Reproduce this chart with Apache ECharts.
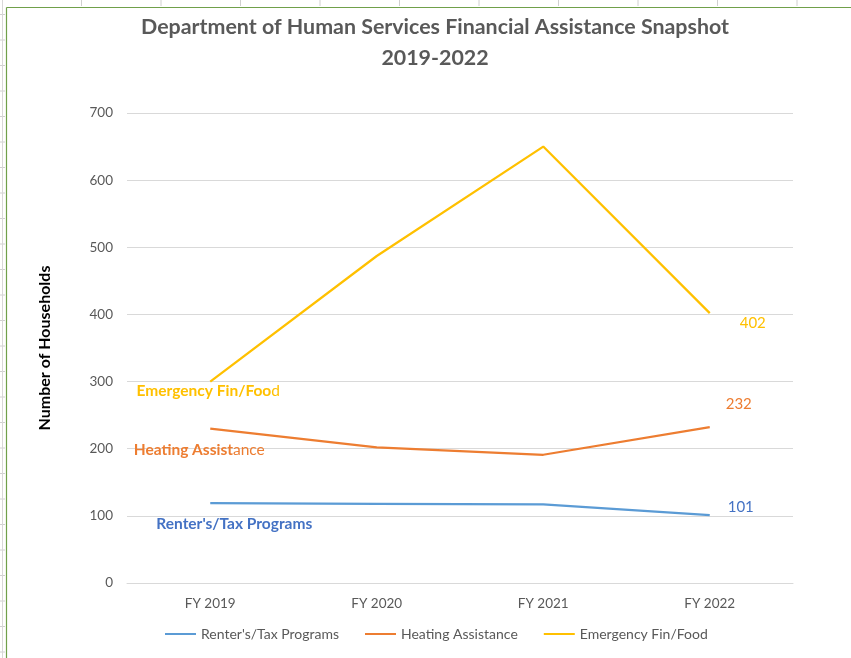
<!DOCTYPE html>
<html><head><meta charset="utf-8">
<script src="https://cdn.jsdelivr.net/npm/echarts@6/dist/echarts.min.js"></script>
<style>html,body{margin:0;padding:0;background:#fff}#c{width:851px;height:658px}</style>
</head><body><div id="c"></div>
<script>
const categories = ['FY 2019', 'FY 2020', 'FY 2021', 'FY 2022'];
const renters = [119, 118, 117, 101];
const heating = [230, 202, 191, 232];
const emergency = [300, 487, 650, 402];
const seriesNames = ["Renter's/Tax Programs", 'Heating Assistance', 'Emergency Fin/Food'];
const yTicks = {min: 0, max: 700, interval: 100};

const FONT = 'Lato, "Open Sans", sans-serif';
const chart = echarts.init(document.getElementById('c'), null, {renderer: 'canvas'});

function startLabel(rich, fmt, offset) {
  return {show: true, position: 'inside', offset: offset, formatter: fmt, rich: rich};
}
function endLabel(color, offset) {
  return {show: true, position: 'inside', offset: offset, color: color, fontSize: 15, fontFamily: FONT, formatter: '{c}'};
}
function mkData(vals, first, last) {
  return vals.map((v, i) => {
    const d = {value: v, label: {show: false}};
    if (i === 0) d.label = first;
    if (i === vals.length - 1) d.label = last;
    return d;
  });
}

const bg = [];
// Excel cell lines outside the chart frame
for (let x = 81.5; x < 851; x += 79.5) bg.push({type: 'line', shape: {x1: x, y1: 0, x2: x, y2: 6}, style: {stroke: '#d0d0d0', lineWidth: 1}, silent: true});
for (let y = 14.5; y < 658; y += 25.5) bg.push({type: 'line', shape: {x1: 0, y1: y, x2: 5, y2: y}, style: {stroke: '#d0d0d0', lineWidth: 1}, silent: true});
bg.push({type: 'line', shape: {x1: 2.5, y1: 0, x2: 2.5, y2: 658}, style: {stroke: '#d8d8d8', lineWidth: 1}, silent: true});
bg.push({type: 'line', shape: {x1: 6.5, y1: 7.5, x2: 851, y2: 7.5}, style: {stroke: '#70a04a', lineWidth: 1.2}, silent: true});
bg.push({type: 'line', shape: {x1: 6.5, y1: 7.5, x2: 6.5, y2: 658}, style: {stroke: '#70a04a', lineWidth: 1.2}, silent: true});

const option = {
  backgroundColor: '#fff',
  animation: false,
  title: {
    text: 'Department of Human Services Financial Assistance Snapshot\n2019-2022',
    left: 430, top: 7, textAlign: 'center',
    textStyle: {fontFamily: FONT, fontSize: 21.4, fontWeight: 'bold', color: '#595959', lineHeight: 31}
  },
  graphic: bg,
  legend: {
    bottom: 12, left: 160, itemWidth: 31, itemHeight: 2, itemGap: 26,
    icon: 'rect',
    textStyle: {fontFamily: FONT, fontSize: 14, color: '#595959'},
    data: seriesNames
  },
  grid: {left: 127, right: 58, top: 113, bottom: 75},
  xAxis: {
    type: 'category', data: categories, boundaryGap: true,
    axisLine: {show: true, lineStyle: {color: '#d9d9d9'}},
    axisTick: {show: false},
    axisLabel: {fontFamily: FONT, fontSize: 13.5, color: '#595959', margin: 14}
  },
  yAxis: {
    type: 'value', min: yTicks.min, max: yTicks.max, interval: yTicks.interval,
    name: 'Number of Households', nameLocation: 'middle', nameGap: 74, nameRotate: 90,
    nameTextStyle: {fontFamily: FONT, fontSize: 16, fontWeight: 'bold', color: '#000'},
    axisLine: {show: false}, axisTick: {show: false},
    axisLabel: {fontFamily: FONT, fontSize: 13.5, color: '#595959', margin: 14},
    splitLine: {lineStyle: {color: '#d9d9d9'}}
  },
  series: [
    {
      name: seriesNames[0], type: 'line', symbol: 'circle', symbolSize: 0, showSymbol: true,
      color: '#5B9BD5', lineStyle: {width: 2.25, color: '#5B9BD5'},
      data: mkData(renters,
        startLabel({b: {fontFamily: FONT, fontSize: 15.5, fontWeight: 'bold', color: '#4472C4'}}, "{b|Renter's/Tax Programs}", [24, 21]),
        endLabel('#4472C4', [31, -8]))
    },
    {
      name: seriesNames[1], type: 'line', symbol: 'circle', symbolSize: 0, showSymbol: true,
      color: '#ED7D31', lineStyle: {width: 2.25, color: '#ED7D31'},
      data: mkData(heating,
        startLabel({b: {fontFamily: FONT, fontSize: 15.5, fontWeight: 'bold', color: '#ED7D31'}, n: {fontFamily: FONT, fontSize: 15.5, color: '#ED7D31'}}, '{b|Heating Assist}{n|ance}', [-11, 21]),
        endLabel('#ED7D31', [29, -23]))
    },
    {
      name: seriesNames[2], type: 'line', symbol: 'circle', symbolSize: 0, showSymbol: true,
      color: '#FFC000', lineStyle: {width: 2.25, color: '#FFC000'},
      data: mkData(emergency,
        startLabel({b: {fontFamily: FONT, fontSize: 15.5, fontWeight: 'bold', color: '#FFC000'}, n: {fontFamily: FONT, fontSize: 15.5, color: '#FFC000'}}, '{b|Emergency Fin/Foo}{n|d}', [-2, 9]),
        endLabel('#FFC000', [43, 10]))
    }
  ]
};
chart.setOption(option);
</script></body></html>
